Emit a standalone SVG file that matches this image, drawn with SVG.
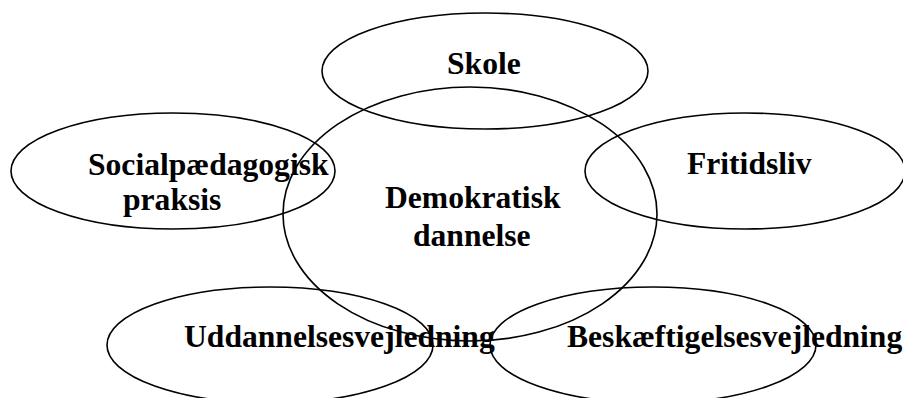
<svg xmlns="http://www.w3.org/2000/svg" width="903" height="398" viewBox="0 0 903 398">
<style>
.e{fill:none;stroke:#000;stroke-width:1.6}
.t{font-family:"Liberation Serif","Times New Roman",serif;font-weight:bold;font-size:31.6px;fill:#000}
</style>
<rect width="903" height="398" fill="#fff"/>
<g id="skole"><ellipse class="e" cx="485" cy="71" rx="163" ry="58"/><text class="t" x="447" y="74">Skole</text></g>
<g id="socialpaedagogisk"><ellipse class="e" cx="173" cy="171" rx="162" ry="58"/><text class="t" x="88" y="175">Socialpædagogisk</text><text class="t" x="123" y="210">praksis</text></g>
<g id="fritidsliv"><ellipse class="e" cx="745" cy="171" rx="160" ry="58"/><text class="t" x="687" y="174">Fritidsliv</text></g>
<g id="demokratisk"><ellipse class="e" cx="470" cy="214" rx="187" ry="127"/><text class="t" x="385" y="208">Demokratisk</text><text class="t" x="413" y="246">dannelse</text></g>
<g id="uddannelse"><ellipse class="e" cx="270" cy="345" rx="163" ry="58"/><text class="t" x="184" y="347">Uddannelsesvejledning</text></g>
<g id="beskaeftigelse"><ellipse class="e" cx="653" cy="345" rx="163" ry="58"/><text class="t" x="567" y="347">Beskæftigelsesvejledning</text></g>
<g id="connectors"></g>
</svg>
